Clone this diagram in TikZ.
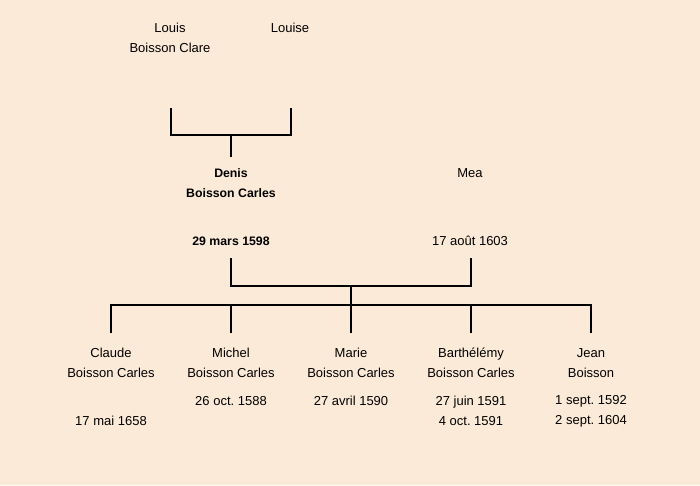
\documentclass[tikz,border=0pt]{standalone}
\usepackage{fontspec}
\setmainfont{Liberation Sans}
\usetikzlibrary{positioning}
\definecolor{parchment}{HTML}{FCEAD8}
\frenchspacing

\begin{document}
\begin{tikzpicture}[x=0.02cm,y=-0.02cm,line width=1.1pt,
                    person/.style={align=center,inner sep=0pt,font=\fontsize{7.4}{11.34}\selectfont},
                    bold person/.style={person,font=\fontsize{7}{11.34}\selectfont\bfseries}]
        \fill[parchment] (0,0) rectangle (700,485);

        % grandparents
        \node[person] (louis) at (170,38) {Louis\\Boisson Clare};
        \node[person] (louise) at (290,28) {Louise};

        % parents
        \node[bold person] (denis) at (231,183) {Denis\\Boisson Carles};
        \node[bold person] (denisdate) at (231,241) {29 mars 1598};
        \node[person] (mea) at (470,173) {Mea};
        \node[person] (meadate) at (470,241) {17 août 1603};

        % children
        \node[person] (claude) at (111,363) {Claude\\Boisson Carles};
        \node[person] (claudedate) at (111,421) {17 mai 1658};
        \node[person] (michel) at (231,363) {Michel\\Boisson Carles};
        \node[person] (micheldate) at (231,401) {26 oct. 1588};
        \node[person] (marie) at (351,363) {Marie\\Boisson Carles};
        \node[person] (mariedate) at (351,401) {27 avril 1590};
        \node[person] (barth) at (471,363) {Barthélémy\\Boisson Carles};
        \node[person] (barthdate) at (471,411) {27 juin 1591\\4 oct. 1591};
        \node[person] (jean) at (591,363) {Jean\\Boisson};
        \node[person] (jeandate) at (591,411) {1 sept. 1592\\2 sept. 1604};

        % bracket points
        \coordinate (louisend) at (171,108);
        \coordinate (louiseend) at (291,108);
        \coordinate (gpmid) at (231,135);
        \coordinate (denistop) at (231,157);
        \coordinate (denisend) at (231,258);
        \coordinate (meaend) at (471,258);
        \coordinate (pmid) at (351,286);
        \coordinate (kids) at (351,305);
        \coordinate (k1) at (111,333);
        \coordinate (k2) at (231,333);
        \coordinate (k3) at (351,333);
        \coordinate (k4) at (471,333);
        \coordinate (k5) at (591,333);

        \draw (louisend) |- (gpmid) -| (louiseend);
        \draw (gpmid) -- (denistop);
        \draw (denisend) |- (pmid) -| (meaend);
        \draw (pmid) -- (kids);
        \draw (k1) |- (kids) -| (k5);
        \draw (k2) -- (k2 |- kids);
        \draw (k3) -- (kids);
        \draw (k4) -- (k4 |- kids);
\end{tikzpicture}
\end{document}
